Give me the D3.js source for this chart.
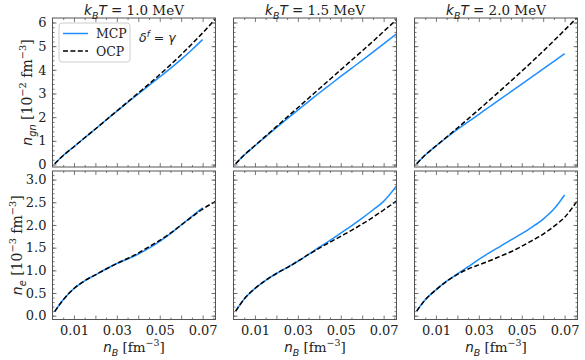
<!DOCTYPE html>
<html>
<head>
<meta charset="utf-8">
<script src="https://cdn.jsdelivr.net/npm/d3@7"></script>
<style>
  body { margin: 0; background: #fff; }
</style>
</head>
<body>
<div id="chart"></div>
<script>
// figure size and panel grid
const WIDTH = 585, HEIGHT = 360;
const PANEL_LEFT = [52.5, 233.5, 414.5];
const PANEL_W = 163;
const ROWS = [{top: 18, bottom: 167}, {top: 171, bottom: 319.5}];
const SANS = "DejaVu Sans", SERIF = "DejaVu Serif";
const BLUE = "#1f8fff";

// data
const temps = ["1.0", "1.5", "2.0"];
const nB = [0.001, 0.005, 0.01, 0.015, 0.02, 0.025, 0.03, 0.035, 0.04, 0.045, 0.05, 0.055, 0.06, 0.065, 0.07, 0.076];

// n_gn [10^-2 fm^-3]
const ngnMCP = [
  [0.03, 0.38, 0.75, 1.13, 1.5, 1.88, 2.25, 2.62, 2.98, 3.34, 3.7, 4.06, 4.44, 4.85, 5.28, null],
  [0.03, 0.4, 0.79, 1.18, 1.56, 1.93, 2.3, 2.66, 3.02, 3.37, 3.72, 4.06, 4.4, 4.75, 5.1, 5.52],
  [0.03, 0.4, 0.78, 1.14, 1.48, 1.8, 2.12, 2.44, 2.76, 3.08, 3.4, 3.72, 4.04, 4.36, 4.68, null]
];
const ngnOCP = [
  [0.03, 0.38, 0.75, 1.13, 1.5, 1.88, 2.26, 2.64, 3.02, 3.4, 3.8, 4.21, 4.64, 5.09, 5.56, 6.15],
  [0.03, 0.4, 0.8, 1.2, 1.6, 2.0, 2.4, 2.8, 3.2, 3.6, 4.0, 4.4, 4.8, 5.2, 5.62, 6.12],
  [0.03, 0.4, 0.78, 1.16, 1.54, 1.93, 2.32, 2.72, 3.12, 3.53, 3.94, 4.36, 4.79, 5.23, 5.68, 6.22]
];

// n_e [10^-3 fm^-3]
const neMCP = [
  [0.09, 0.35, 0.6, 0.77, 0.9, 1.03, 1.15, 1.25, 1.36, 1.49, 1.64, 1.81, 2.0, 2.19, 2.38, null],
  [0.1, 0.37, 0.6, 0.78, 0.93, 1.06, 1.2, 1.35, 1.51, 1.66, 1.82, 1.98, 2.15, 2.33, 2.52, 2.86],
  [0.1, 0.35, 0.57, 0.76, 0.92, 1.08, 1.24, 1.39, 1.53, 1.67, 1.81, 1.96, 2.13, 2.35, 2.66, null]
];
const neOCP = [
  [0.09, 0.35, 0.6, 0.77, 0.9, 1.03, 1.15, 1.26, 1.38, 1.52, 1.66, 1.82, 2.0, 2.18, 2.35, 2.52],
  [0.1, 0.37, 0.6, 0.78, 0.93, 1.06, 1.2, 1.35, 1.49, 1.62, 1.75, 1.88, 2.02, 2.17, 2.33, 2.53],
  [0.1, 0.35, 0.57, 0.76, 0.91, 1.03, 1.12, 1.21, 1.31, 1.41, 1.53, 1.66, 1.8, 1.97, 2.17, 2.54]
];

const xTicks = [0.01, 0.02, 0.03, 0.04, 0.05, 0.06, 0.07];
const xTickLabels = ["0.01", "", "0.03", "", "0.05", "", "0.07"];
const ngnTicks = [0, 1, 2, 3, 4, 5, 6];
const neTicks = [0, 0.5, 1.0, 1.5, 2.0, 2.5, 3.0];

const svg = d3.select("#chart").append("svg")
  .attr("width", WIDTH)
  .attr("height", HEIGHT);

// mixed math / serif text
function rich(sel, parts, size) {
  let cur = 0;
  parts.forEach(p => {
    const target = p.sub ? size * 0.28 : p.sup ? -size * 0.42 : 0;
    sel.append("tspan")
      .attr("dy", target - cur)
      .attr("font-family", p.serif ? SERIF : SANS)
      .attr("font-style", p.it ? "italic" : "normal")
      .attr("font-size", (p.sub || p.sup) ? size * 0.7 : size)
      .text(p.t);
    cur = target;
  });
}

const rowDefs = [
  {domain: [-0.106, 6.19], major: ngnTicks, minorStep: 0.2, fmt: d3.format("d"), mcp: ngnMCP, ocp: ngnOCP},
  {domain: [-0.084, 3.19], major: neTicks, minorStep: 0.1, fmt: d3.format(".1f"), mcp: neMCP, ocp: neOCP}
];

rowDefs.forEach((rd, r) => {
  const row = ROWS[r];
  const y = d3.scaleLinear().domain(rd.domain).range([row.bottom, row.top]);
  const yMinor = d3.range(0, rd.domain[1], rd.minorStep);

  temps.forEach((t, c) => {
    const left = PANEL_LEFT[c];
    const x = d3.scaleLinear().domain([0, 0.076]).range([left, left + PANEL_W]);
    const xMinor = d3.range(0.005, 0.076, 0.01);
    const g = svg.append("g");
    const clipId = "clip" + r + c;
    svg.append("clipPath").attr("id", clipId).append("rect")
      .attr("x", left).attr("y", row.top)
      .attr("width", PANEL_W).attr("height", row.bottom - row.top);

    // lines
    const line = d3.line()
      .defined(d => d[1] != null)
      .x(d => x(d[0])).y(d => y(d[1]))
      .curve(d3.curveMonotoneX);
    g.append("path")
      .datum(nB.map((v, i) => [v, rd.mcp[c][i]]))
      .attr("clip-path", `url(#${clipId})`)
      .attr("fill", "none").attr("stroke", BLUE).attr("stroke-width", 1.5)
      .attr("d", line);
    g.append("path")
      .datum(nB.map((v, i) => [v, rd.ocp[c][i]]))
      .attr("clip-path", `url(#${clipId})`)
      .attr("fill", "none").attr("stroke", "#000").attr("stroke-width", 1.5)
      .attr("stroke-dasharray", "5,2.4")
      .attr("d", line);

    // axes, ticks inward on all four sides
    const axes = [
      {gen: d3.axisBottom(x), pos: `translate(0,${row.bottom})`, major: xTicks, minor: xMinor},
      {gen: d3.axisTop(x), pos: `translate(0,${row.top})`, major: xTicks, minor: xMinor},
      {gen: d3.axisLeft(y), pos: `translate(${left},0)`, major: rd.major, minor: yMinor},
      {gen: d3.axisRight(y), pos: `translate(${left + PANEL_W},0)`, major: rd.major, minor: yMinor}
    ];
    axes.forEach((a, k) => {
      const ag = g.append("g").attr("transform", a.pos);
      ag.call(a.gen.tickValues(a.minor).tickSize(-2).tickFormat(""));
      ag.select(".domain").remove();
      const mg = g.append("g").attr("transform", a.pos);
      const showX = k === 0 && r === 1;
      const showY = k === 2 && c === 0;
      let gen = a.gen.tickValues(a.major).tickSize(-4).tickPadding(6);
      if (k < 2) gen = gen.tickFormat((d, i) => showX ? xTickLabels[i] : "");
      else gen = gen.tickFormat(d => showY ? rd.fmt(d) : "");
      mg.call(gen);
      mg.select(".domain").remove();
      mg.selectAll("text").attr("font-family", SERIF).attr("font-size", 13).attr("fill", "#222");
      [ag, mg].forEach(s => s.selectAll("line").attr("stroke", "#555").attr("stroke-width", 0.8));
    });

    g.append("rect")
      .attr("x", left).attr("y", row.top)
      .attr("width", PANEL_W).attr("height", row.bottom - row.top)
      .attr("fill", "none").attr("stroke", "#555").attr("stroke-width", 1);

    // titles
    if (r === 0) {
      const tt = svg.append("text")
        .attr("x", left + PANEL_W / 2).attr("y", 15)
        .attr("text-anchor", "middle").attr("fill", "#222");
      rich(tt, [
        {t: "k", it: true}, {t: "B", it: true, sub: true}, {t: "T", it: true},
        {t: " = "}, {t: t + " MeV", serif: true}
      ], 13.5);
    }
    // x labels
    if (r === 1) {
      const xl = svg.append("text")
        .attr("x", left + PANEL_W / 2).attr("y", 352)
        .attr("text-anchor", "middle").attr("fill", "#222");
      rich(xl, [
        {t: "n", it: true}, {t: "B", it: true, sub: true},
        {t: " [fm", serif: true}, {t: "−3", serif: true, sup: true}, {t: "]", serif: true}
      ], 13.5);
    }
  });
});

// y labels (placed separately, like the reference)
const yl1 = svg.append("g")
  .attr("transform", `translate(32,${(ROWS[0].top + ROWS[0].bottom) / 2}) rotate(-90)`)
  .append("text").attr("text-anchor", "middle").attr("fill", "#222");
rich(yl1, [
  {t: "n", it: true}, {t: "gn", it: true, sub: true},
  {t: " [10", serif: true}, {t: "−2", serif: true, sup: true},
  {t: " fm", serif: true}, {t: "−3", serif: true, sup: true}, {t: "]", serif: true}
], 14);

const yl2 = svg.append("g")
  .attr("transform", `translate(22,${(ROWS[1].top + ROWS[1].bottom) / 2}) rotate(-90)`)
  .append("text").attr("text-anchor", "middle").attr("fill", "#222");
rich(yl2, [
  {t: "n", it: true}, {t: "e", it: true, sub: true},
  {t: " [10", serif: true}, {t: "−3", serif: true, sup: true},
  {t: " fm", serif: true}, {t: "−3", serif: true, sup: true}, {t: "]", serif: true}
], 14);

// legend
const leg = svg.append("g");
leg.append("rect")
  .attr("x", 59).attr("y", 23).attr("width", 71).attr("height", 39).attr("rx", 3)
  .attr("fill", "#fff").attr("fill-opacity", 0.8)
  .attr("stroke", "#ccc").attr("stroke-width", 1);
[["MCP", BLUE, null], ["OCP", "#000", "5,2.4"]].forEach(([name, col, dash], i) => {
  const yy = 33.5 + i * 17.5;
  leg.append("line")
    .attr("x1", 63).attr("x2", 88).attr("y1", yy).attr("y2", yy)
    .attr("stroke", col).attr("stroke-width", 1.5)
    .attr("stroke-dasharray", dash);
  leg.append("text")
    .attr("x", 96).attr("y", yy + 4.5)
    .attr("font-family", SERIF).attr("font-size", 12.5).attr("fill", "#222")
    .text(name);
});

const dl = svg.append("text").attr("x", 139).attr("y", 42).attr("fill", "#222");
rich(dl, [{t: "δ", it: true}, {t: "f", it: true, sup: true}, {t: " = "}, {t: "γ", it: true}], 12.5);
</script>
</body>
</html>
